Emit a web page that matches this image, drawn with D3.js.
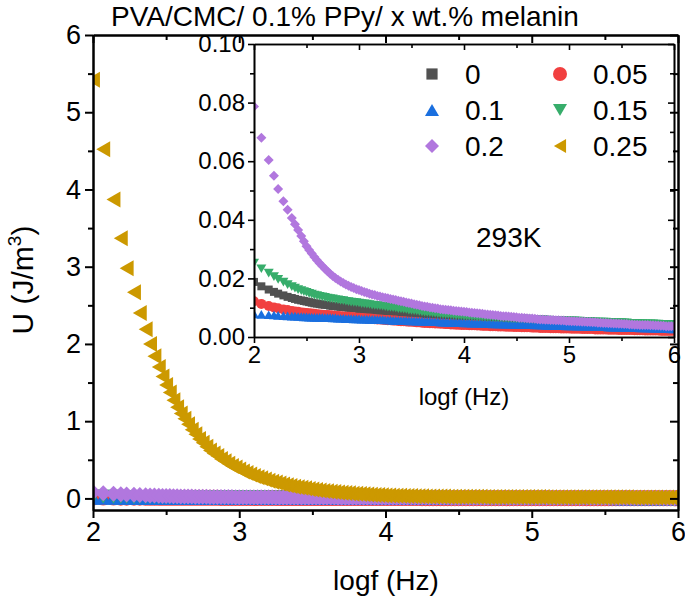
<!DOCTYPE html>
<html><head><meta charset="utf-8">
<script src="https://cdn.jsdelivr.net/npm/d3@7"></script>
<style>
body{margin:0;background:#fff}
svg text{font-family:"Liberation Sans",Arial,sans-serif;fill:#000}
</style>
</head><body>
<svg id="chart" width="685" height="599"></svg>
<script>
// ---------------- data ----------------
const logf = [2.00,2.07,2.14,2.19,2.23,2.28,2.32,2.36,2.39,2.42,2.45,
2.475,
2.50,2.525,2.55,2.575, 2.60,2.625,2.65,2.675, 2.70,2.725,2.75,2.775, 2.80,2.825,2.85,2.875, 2.90,2.925,2.95,2.975,
3.00,3.025,3.05,3.075, 3.10,3.125,3.15,3.175, 3.20,3.225,3.25,3.275, 3.30,3.325,3.35,3.375, 3.40,3.425,3.45,3.475,
3.50,3.525,3.55,3.575, 3.60,3.625,3.65,3.675, 3.70,3.725,3.75,3.775, 3.80,3.825,3.85,3.875, 3.90,3.925,3.95,3.975,
4.00,4.025,4.05,4.075, 4.10,4.125,4.15,4.175, 4.20,4.225,4.25,4.275, 4.30,4.325,4.35,4.375, 4.40,4.425,4.45,4.475,
4.50,4.525,4.55,4.575, 4.60,4.625,4.65,4.675, 4.70,4.725,4.75,4.775, 4.80,4.825,4.85,4.875, 4.90,4.925,4.95,4.975,
5.00,5.025,5.05,5.075, 5.10,5.125,5.15,5.175, 5.20,5.225,5.25,5.275, 5.30,5.325,5.35,5.375, 5.40,5.425,5.45,5.475,
5.50,5.525,5.55,5.575, 5.60,5.625,5.65,5.675, 5.70,5.725,5.75,5.775, 5.80,5.825,5.85,5.875, 5.90,5.925,5.95,5.975,
6.00];

const u_0 = [0.0188,0.0173,0.0162,0.0154,0.0148,0.0142,0.0137,0.0133,0.0130,0.0127,0.0125,
0.0123,
.0121,.0119,.0117,.0115, .0114,.0112,.0111,.0110, .0109,.0107,.0106,.0105, .0104,.0103,.0102,.0101, .0100,.0099,.0098,.0097,
.0096,.0095,.0094,.0093, .0093,.0092,.0091,.0090, .0090,.0089,.0088,.0087, .0087,.0086,.0085,.0084, .0084,.0083,.0082,.0081,
.0081,.0080,.0079,.0078, .0078,.0077,.0076,.0075, .0075,.0074,.0073,.0072, .0072,.0071,.0070,.0069, .0069,.0068,.0067,.0066,
.0066,.0065,.0064,.0063, .0063,.0062,.0062,.0061, .0060,.0060,.0059,.0058, .0058,.0057,.0057,.0056, .0056,.0055,.0055,.0054,
.0054,.0053,.0053,.0052, .0052,.0051,.0051,.0050, .0050,.0050,.0050,.0049, .0049,.0048,.0048,.0047, .0047,.0047,.0047,.0046,
.0046,.0046,.0045,.0045, .0045,.0044,.0044,.0043, .0043,.0043,.0043,.0042, .0042,.0041,.0041,.0041, .0041,.0040,.0040,.0040,
.0040,.0039,.0039,.0039, .0039,.0038,.0038,.0037, .0037,.0037,.0037,.0036, .0036,.0036,.0036,.0035, .0035,.0035,.0035,.0034,
.0034];

const u_005 = [0.0122,0.0113,0.0106,0.0101,0.0098,0.0094,0.0092,0.0089,0.0087,0.0086,0.0084,
0.0083,
.0082,.0081,.0080,.0079, .0078,.0077,.0076,.0075, .0075,.0074,.0073,.0072, .0072,.0071,.0070,.0069, .0069,.0068,.0067,.0066,
.0066,.0065,.0064,.0063, .0063,.0062,.0061,.0060, .0060,.0059,.0058,.0057, .0057,.0056,.0056,.0055, .0054,.0054,.0053,.0052,
.0052,.0051,.0050,.0050, .0049,.0048,.0048,.0047, .0047,.0046,.0046,.0045, .0045,.0044,.0044,.0043, .0043,.0042,.0042,.0041,
.0041,.0041,.0040,.0040, .0040,.0039,.0039,.0038, .0038,.0038,.0037,.0037, .0037,.0036,.0036,.0036, .0035,.0035,.0035,.0034,
.0034,.0034,.0033,.0033, .0033,.0033,.0032,.0032, .0032,.0031,.0031,.0031, .0031,.0030,.0030,.0030, .0030,.0029,.0029,.0029,
.0029,.0028,.0028,.0028, .0028,.0027,.0027,.0027, .0027,.0027,.0026,.0026, .0026,.0026,.0026,.0025, .0025,.0025,.0025,.0024,
.0024,.0024,.0024,.0024, .0024,.0023,.0023,.0023, .0023,.0022,.0022,.0022, .0022,.0022,.0022,.0021, .0021,.0021,.0021,.0021,
.0021];

const u_01 = [0.0079,0.0077,0.0076,0.0075,0.0074,0.0073,0.0072,0.0071,0.0071,0.0070,0.0070,
0.0069,
.0069,.0068,.0068,.0067, .0067,.0067,.0067,.0066, .0066,.0066,.0065,.0065, .0064,.0064,.0064,.0063, .0063,.0063,.0062,.0062,
.0062,.0061,.0061,.0061, .0060,.0060,.0060,.0059, .0059,.0059,.0058,.0058, .0058,.0057,.0057,.0057, .0056,.0056,.0056,.0055,
.0055,.0055,.0054,.0054, .0054,.0053,.0053,.0053, .0052,.0052,.0052,.0051, .0051,.0051,.0050,.0050, .0050,.0049,.0049,.0049,
.0048,.0048,.0048,.0047, .0047,.0047,.0047,.0046, .0046,.0046,.0046,.0045, .0045,.0045,.0045,.0044, .0044,.0044,.0044,.0043,
.0043,.0043,.0043,.0042, .0042,.0042,.0042,.0041, .0041,.0041,.0041,.0040, .0040,.0040,.0040,.0039, .0039,.0039,.0039,.0038,
.0038,.0038,.0038,.0037, .0037,.0037,.0037,.0036, .0036,.0036,.0036,.0035, .0035,.0035,.0035,.0034, .0034,.0034,.0034,.0033,
.0033,.0033,.0033,.0032, .0032,.0032,.0032,.0031, .0031,.0031,.0031,.0030, .0030,.0030,.0030,.0029, .0029,.0029,.0029,.0028,
.0028];

const u_015 = [0.0252,0.0233,0.0218,0.0206,0.0197,0.0187,0.0179,0.0172,0.0167,0.0162,0.0158,
0.0155,
.0152,.0149,.0146,.0143, .0141,.0139,.0137,.0135, .0133,.0131,.0130,.0128, .0127,.0125,.0124,.0122, .0121,.0119,.0118,.0117,
.0116,.0114,.0113,.0112, .0111,.0109,.0108,.0107, .0106,.0105,.0104,.0102, .0101,.0100,.0099,.0097, .0096,.0095,.0094,.0092,
.0091,.0090,.0089,.0087, .0086,.0085,.0084,.0083, .0082,.0081,.0080,.0079, .0078,.0077,.0077,.0076, .0075,.0074,.0074,.0073,
.0072,.0071,.0071,.0070, .0070,.0069,.0069,.0068, .0068,.0067,.0067,.0066, .0066,.0065,.0065,.0064, .0064,.0063,.0063,.0062,
.0062,.0062,.0062,.0061, .0061,.0060,.0060,.0059, .0059,.0059,.0059,.0058, .0058,.0057,.0057,.0057, .0057,.0056,.0056,.0055,
.0055,.0055,.0055,.0054, .0054,.0053,.0053,.0053, .0053,.0052,.0052,.0051, .0051,.0051,.0051,.0050, .0050,.0049,.0049,.0049,
.0049,.0048,.0048,.0047, .0047,.0047,.0047,.0046, .0046,.0045,.0045,.0045, .0045,.0044,.0044,.0043, .0043,.0043,.0043,.0042,
.0042];

const u_02 = [0.0787,0.0680,0.0604,0.0550,0.0505,0.0463,0.0434,0.0406,0.0385,0.0365,0.0345,
0.0327,
.0310,.0297,.0285,.0273, .0262,.0252,.0242,.0233, .0224,.0216,.0208,.0201, .0195,.0189,.0184,.0179, .0175,.0171,.0167,.0163,
.0160,.0157,.0154,.0151, .0148,.0145,.0143,.0140, .0138,.0136,.0134,.0132, .0130,.0128,.0126,.0124, .0122,.0120,.0118,.0116,
.0114,.0112,.0110,.0108, .0106,.0104,.0103,.0101, .0100,.0098,.0097,.0095, .0094,.0093,.0092,.0091, .0090,.0089,.0088,.0087,
.0086,.0085,.0084,.0083, .0082,.0081,.0080,.0079, .0078,.0077,.0076,.0075, .0074,.0073,.0072,.0071, .0071,.0070,.0069,.0068,
.0067,.0066,.0066,.0065, .0064,.0063,.0063,.0062, .0061,.0060,.0060,.0059, .0059,.0058,.0058,.0057, .0057,.0056,.0056,.0055,
.0055,.0054,.0054,.0053, .0053,.0052,.0052,.0051, .0051,.0050,.0050,.0049, .0049,.0048,.0048,.0047, .0047,.0046,.0046,.0045,
.0045,.0044,.0044,.0043, .0043,.0042,.0042,.0041, .0041,.0041,.0041,.0040, .0040,.0039,.0039,.0038, .0038,.0037,.0037,.0037,
.0037];

const u_025 = [5.42,4.52,3.87,3.37,2.98,2.67,2.40,2.19,2.00,1.84,1.70,
1.58,
1.47,1.37,1.27,1.18, 1.10,1.03,0.96,0.89, 0.83,0.77,0.72,0.67, 0.62,0.58,0.55,0.51, 0.48,0.45,0.42,0.40,
0.375,0.35,0.33,0.31, 0.29,0.275,0.26,0.245, 0.23,0.217,0.205,0.192, 0.18,0.17,0.16,0.152, 0.145,0.137,0.13,0.122,
0.115,0.109,0.103,0.097, 0.092,0.087,0.082,0.078, 0.074,0.070,0.066,0.062, 0.059,0.056,0.053,0.050, 0.048,0.045,0.043,0.041,
0.039,0.037,0.036,0.034, 0.033,0.032,0.031,0.030, 0.029,0.028,0.027,0.026, 0.026,0.025,0.025,0.024, 0.024,0.023,0.023,0.022,
0.022,0.022,0.021,0.021, 0.020,0.020,0.020,0.019, 0.019,0.019,0.019,0.018, 0.018,0.018,0.018,0.018, 0.018,0.017,0.017,0.017,
0.017,0.017,0.017,0.017, 0.016,0.016,0.016,0.016, 0.016,0.016,0.015,0.015, 0.015,0.015,0.015,0.015, 0.015,0.015,0.015,0.014,
0.014,0.014,0.014,0.014, 0.014,0.014,0.014,0.013, 0.013,0.013,0.013,0.013, 0.013,0.013,0.012,0.012, 0.012,0.012,0.012,0.012,
0.012];

const seriesNames  = ["0","0.05","0.1","0.15","0.2","0.25"];
const seriesValues = [u_0,u_005,u_01,u_015,u_02,u_025];
const seriesColors = ["#515151","#F14040","#1A6FDF","#37AD6B","#B177DE","#CC9900"];
const seriesShapes = ["square","circle","up","down","diamond","left"];

const mainXTicks = [2,3,4,5,6];
const mainXMinor = [2.5,3.5,4.5,5.5];
const mainYTicks = [0,1,2,3,4,5,6];
const mainYMinor = [0.5,1.5,2.5,3.5,4.5,5.5];
const insetXTicks = [2,3,4,5,6];
const insetXMinor = [2.5,3.5,4.5,5.5];
const insetYTicks = [0,0.02,0.04,0.06,0.08,0.10];
const insetYMinor = [0.01,0.03,0.05,0.07,0.09];

// ---------------- drawing ----------------
const svg = d3.select("#chart");
const FONT = "'Liberation Sans', Arial, sans-serif";

function symPath(type, s){
  const h = s/2;
  switch(type){
    case "square": { const q = h*0.8; return `M${-q},${-q}H${q}V${q}H${-q}Z`; }
    case "circle": return `M${h},0A${h},${h} 0 1,1 ${-h},0A${h},${h} 0 1,1 ${h},0Z`;
    case "up":     return `M0,${-0.87*h}L${h},${0.87*h}L${-h},${0.87*h}Z`;
    case "down":   return `M0,${0.87*h}L${h},${-0.87*h}L${-h},${-0.87*h}Z`;
    case "left":   return `M${-0.87*h},0L${0.87*h},${-h}L${0.87*h},${h}Z`;
    case "diamond":return `M0,${-h}L${h},0L0,${h}L${-h},0Z`;
  }
}

function styleAxis(g, w){
  g.selectAll("path.domain").attr("stroke","#000").attr("stroke-width",w);
  g.selectAll(".tick line").attr("stroke","#000").attr("stroke-width",w);
  g.selectAll(".tick text").attr("font-family",FONT).attr("fill","#000");
}

function drawPanel(opt){
  const x = d3.scaleLinear().domain(opt.xd).range([opt.L,opt.R]);
  const y = d3.scaleLinear().domain(opt.yd).range([opt.B,opt.T]);
  const id = opt.id;
  svg.append("clipPath").attr("id",id+"clip").append("rect")
    .attr("x",opt.L).attr("y",opt.T).attr("width",opt.R-opt.L).attr("height",opt.B-opt.T);
  const pts = svg.append("g").attr("clip-path",`url(#${id}clip)`);
  opt.series.forEach(si=>{
    const vals = seriesValues[si];
    pts.append("g").selectAll("path").data(vals).join("path")
      .attr("d", symPath(seriesShapes[si], opt.ms))
      .attr("transform",(d,i)=>`translate(${x(logf[i])},${y(d)})`)
      .attr("fill",seriesColors[si]);
  });
  const M = opt.major, m = opt.minor, sw = opt.sw;
  const gb = svg.append("g").attr("transform",`translate(0,${opt.B})`)
    .call(d3.axisBottom(x).tickValues(opt.xt).tickSize(M).tickSizeOuter(0).tickPadding(opt.pad).tickFormat(d3.format("d")));
  gb.selectAll("text").attr("font-size",opt.fs);
  styleAxis(gb,sw);
  const gbm = svg.append("g").attr("transform",`translate(0,${opt.B})`)
    .call(d3.axisBottom(x).tickValues(opt.xm).tickSize(m).tickSizeOuter(0).tickFormat(""));
  styleAxis(gbm,sw);
  const gl = svg.append("g").attr("transform",`translate(${opt.L},0)`)
    .call(d3.axisLeft(y).tickValues(opt.yt).tickSize(M).tickSizeOuter(0).tickPadding(opt.pad).tickFormat(opt.yfmt));
  gl.selectAll("text").attr("font-size",opt.fs);
  styleAxis(gl,sw);
  const glm = svg.append("g").attr("transform",`translate(${opt.L},0)`)
    .call(d3.axisLeft(y).tickValues(opt.ym).tickSize(m).tickSizeOuter(0).tickFormat(""));
  styleAxis(glm,sw);
  const gt = svg.append("g").attr("transform",`translate(0,${opt.T})`)
    .call(d3.axisTop(x).tickValues(opt.xt).tickSize(-M).tickSizeOuter(0).tickFormat(""));
  styleAxis(gt,sw);
  const gtm = svg.append("g").attr("transform",`translate(0,${opt.T})`)
    .call(d3.axisTop(x).tickValues(opt.xm).tickSize(-m).tickSizeOuter(0).tickFormat(""));
  styleAxis(gtm,sw);
  const gr = svg.append("g").attr("transform",`translate(${opt.R},0)`)
    .call(d3.axisRight(y).tickValues(opt.yt).tickSize(-M).tickSizeOuter(0).tickFormat(""));
  styleAxis(gr,sw);
  const grm = svg.append("g").attr("transform",`translate(${opt.R},0)`)
    .call(d3.axisRight(y).tickValues(opt.ym).tickSize(-m).tickSizeOuter(0).tickFormat(""));
  styleAxis(grm,sw);
  return {x,y};
}

// main panel (all six series)
drawPanel({id:"main", xd:[2,6], yd:[-0.15,6], L:93, R:678, T:35, B:510,
  series:[0,1,2,3,4,5],
  xt:mainXTicks, xm:mainXMinor, yt:mainYTicks, ym:mainYMinor,
  yfmt:d3.format("d"), major:8, minor:5, sw:2, fs:27, pad:4, ms:16});

// inset panel (0 – 0.2 series)
drawPanel({id:"inset", xd:[2,6], yd:[0,0.1], L:254, R:674, T:44, B:337,
  series:[0,1,2,3,4],
  xt:insetXTicks, xm:insetXMinor, yt:insetYTicks, ym:insetYMinor,
  yfmt:d3.format(".2f"), major:6, minor:4, sw:1.6, fs:24, pad:3, ms:10});

// texts
svg.append("text").attr("x",345).attr("y",26).attr("text-anchor","middle")
  .attr("font-size",28).text("PVA/CMC/ 0.1% PPy/ x wt.% melanin");
svg.append("text").attr("x",386).attr("y",590).attr("text-anchor","middle")
  .attr("font-size",28).text("logf (Hz)");
svg.append("text").attr("x",464).attr("y",405).attr("text-anchor","middle")
  .attr("font-size",24).text("logf (Hz)");
const yl = svg.append("text").attr("transform","translate(33,280) rotate(-90)")
  .attr("text-anchor","middle").attr("font-size",30);
yl.append("tspan").text("U (J/m");
yl.append("tspan").attr("font-size",19).attr("dy",-12).text("3");
yl.append("tspan").attr("dy",12).text(")");
svg.append("text").attr("x",476).attr("y",247).attr("font-size",28).text("293K");

// legend
const legendOrder = [0,2,4,1,3,5];
legendOrder.forEach((si,k)=>{
  const col = Math.floor(k/3), row = k%3;
  const mx = col===0 ? 432 : 560;
  const my = 74 + row*36;
  svg.append("path").attr("d",symPath(seriesShapes[si],14))
    .attr("transform",`translate(${mx},${my})`).attr("fill",seriesColors[si]);
  svg.append("text").attr("x",mx+33).attr("y",my+10).attr("font-size",28)
    .text(seriesNames[si]);
});
</script>
</body></html>
